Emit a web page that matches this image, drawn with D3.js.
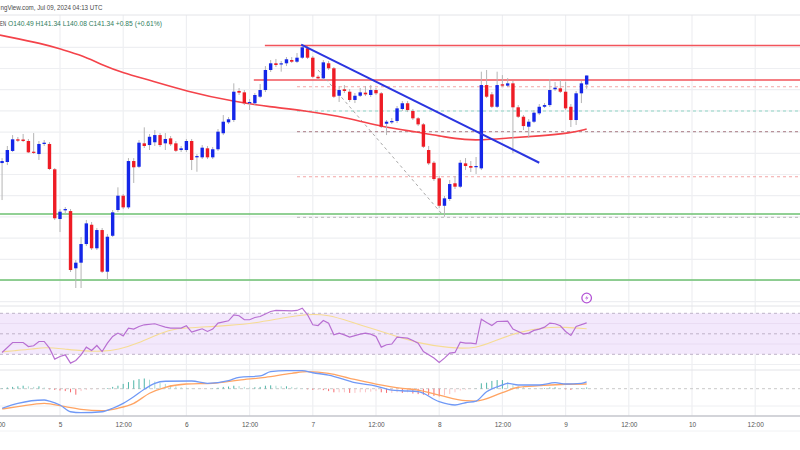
<!DOCTYPE html>
<html>
<head>
<meta charset="utf-8">
<script src="https://cdn.jsdelivr.net/npm/d3@7"></script>
<style>
	body { margin: 0; background: #fff; }
	svg { display: block; font-family: "Liberation Sans", Arial, sans-serif; }
</style>
</head>
<body>
<div id="chart"></div>
<script>
// hourly candles, first one is Jul 04 13:00 UTC (hour -11 from Jul 05 00:00)
var startHour = -11;

var opens = [133.08,133.18,134.22,135.32,135.30,135.16,134.15,133.93,134.88,134.88,132.49,
	127.80,128.62,128.55,123.15,123.68,125.44,127.26,125.04,126.76,122.83,126.22,128.65,130.00,128.90,133.27,132.73,134.94,134.78,135.04,135.72,134.94,135.41,134.94,134.31,
	134.31,135.16,133.62,133.62,134.47,133.62,134.38,135.89,136.92,137.14,139.88,139.75,138.74,138.72,139.34,139.97,141.86,142.49,142.40,142.49,142.80,142.64,143.02,143.91,
	143.02,141.22,141.07,142.49,142.02,139.43,140.04,139.81,139.03,139.43,139.72,139.50,139.97,139.66,136.79,136.92,137.05,138.18,138.72,137.99,137.30,136.73,134.31,133.11,
	131.64,129.05,129.69,131.17,130.85,133.05,132.80,132.70,132.58,140.44,139.56,138.39,140.51,140.38,140.60,138.34,137.45,136.51,136.98,137.77,138.39,138.55,140.04,140.13,
	139.81,138.39,137.14,139.66,140.49];
var highs = [133.55,134.69,135.72,135.54,135.82,135.35,135.91,135.16,135.25,135.06,132.61,
	128.74,128.93,128.74,123.93,126.10,127.71,127.52,126.95,126.95,126.39,128.65,130.79,130.16,133.55,133.55,135.25,136.45,135.82,136.20,135.91,135.91,135.63,135.16,134.69,
	135.35,135.35,133.93,134.78,134.69,134.59,136.29,137.61,137.42,140.60,140.16,139.97,139.12,139.69,140.54,142.23,142.80,142.90,142.71,143.08,143.08,143.46,144.26,144.12,
	143.18,141.38,142.80,142.71,142.14,140.35,140.44,140.06,139.69,140.16,140.35,140.44,140.16,139.78,137.14,137.33,138.46,138.93,138.93,138.18,137.42,136.86,134.69,133.27,
	131.86,129.97,131.48,131.86,133.37,133.55,133.27,133.65,141.70,141.86,139.78,141.70,141.38,141.10,140.82,138.55,137.61,137.23,138.08,138.65,138.74,141.01,140.72,140.91,
	140.75,138.65,139.88,140.82,141.34];
var lows = [129.59,132.89,134.12,135.06,135.06,134.03,133.93,133.37,134.69,132.42,127.71,
	126.57,128.27,122.80,121.29,121.29,125.25,124.88,124.88,122.71,122.05,126.10,128.46,128.74,128.74,131.20,132.61,134.50,134.31,134.69,134.59,134.31,134.69,134.12,134.12,
	134.12,132.42,132.26,133.46,133.46,133.46,134.22,135.72,136.76,136.95,139.50,138.55,138.08,138.55,139.22,139.78,141.67,142.14,141.70,142.23,142.52,142.52,142.90,142.90,
	141.10,140.91,140.91,141.86,139.22,138.84,139.69,138.84,138.74,139.31,139.40,139.31,139.50,136.39,135.72,136.76,136.86,137.99,137.89,137.14,136.57,134.50,132.89,131.39,
	128.84,128.02,129.50,130.63,130.72,132.42,132.23,132.05,132.42,139.22,138.27,138.27,140.25,140.25,134.00,137.33,136.20,135.44,136.86,137.61,138.27,138.37,139.88,139.69,
	138.08,136.48,136.67,138.74,140.08];
var closes = [133.27,134.31,135.32,135.19,135.16,134.09,134.06,134.88,135.00,132.52,127.87,
	128.49,128.74,122.99,123.68,125.44,127.39,125.04,126.76,122.83,126.13,128.43,130.00,128.90,133.27,132.68,135.00,134.69,135.56,135.72,134.78,135.35,134.85,134.24,134.47,
	135.16,133.37,133.74,134.53,133.62,134.38,136.04,136.98,137.21,139.81,139.72,138.72,138.84,139.50,139.97,141.86,142.49,142.33,142.49,142.87,142.64,143.02,144.00,143.02,
	141.22,141.07,142.58,142.02,139.34,139.97,139.88,139.03,139.43,139.75,139.56,139.97,139.66,136.51,136.98,137.05,138.24,138.72,138.08,137.30,136.73,134.62,133.05,131.57,
	129.05,129.75,131.10,130.85,133.11,132.80,132.64,132.80,140.44,139.34,138.39,140.44,140.38,140.60,138.34,137.45,136.57,136.98,137.83,138.39,138.55,139.97,140.19,139.81,
	138.24,137.14,139.66,140.60,141.34];

// moving average on price pane: [hour, price]
var maPoints = [[-11.4,145.15],[-3,144.31],[0,143.84],[4.4,143.2],[7.6,142.42],[12,141.58],[17,140.9],[24,139.85],[33,138.87],[40,138.37],
	[46,138.05],[55,137.33],[61,136.5],[68,136.0],[73,135.54],[77,135.27],[80,135.25],[85,135.44],[91,135.63],[97,135.91],[100,136.29]];

// drawings
var resistanceLevels = [{price: 144.17, from: 38.9}, {price: 140.91, from: 36.8}];
var fibLevels = [140.28, 137.99, 136.04, 131.79, 127.96];
var fibFrom = 45;
var supportLevels = [128.27, 122.05];
var trendLine = [[45.8, 144.26], [91.0, 133.11]];
var swingLine = [[49.0, 141.86], [72.7, 128.17]];

// RSI and its moving average: [hour, value]
var rsiPoints = [[-11,31.8],[-9,41.5],[-7,41.5],[-6,37.6],[-5,38.3],[-4,42.5],[-3,42.5],[-2,36.0],[-1,25.3],[0,27.9],[1,29.5],[2,21.4],[3,24.0],[4,29.5],
	[5,37.0],[6,33.7],[7,38.6],[8,32.7],[9,40.9],[10,47.4],[11,50.7],[12,48.0],[13,55.5],[14,54.6],[15,57.1],[16,58.8],[18,59.8],[19,58.1],[20,56.5],[21,55.5],
	[23,55.5],[24,57.8],[25,51.6],[26,53.3],[27,54.9],[28,52.3],[29,54.6],[30,60.4],[32,62.7],[33,68.5],[34,67.6],[35,63.7],[36,63.7],[37,65.9],[38,66.9],
	[40,71.8],[41,72.8],[44,72.4],[45,72.8],[46,75.0],[47,68.5],[48,58.8],[49,58.1],[50,63.0],[51,60.4],[52,49.0],[53,50.7],[54,49.0],[55,46.8],[57,49.7],
	[58,50.7],[59,49.7],[60,47.4],[61,37.0],[62,39.3],[63,40.0],[64,46.8],[66,45.8],[67,43.5],[68,40.9],[69,32.7],[70,29.5],[71,26.3],[72,22.0],[73,26.3],
	[74,31.2],[75,31.8],[76,41.9],[77,40.9],[78,40.9],[79,40.2],[80,64.3],[81,61.1],[82,58.1],[83,62.0],[85,62.4],[86,54.6],[87,52.3],[88,49.7],[89,50.7],
	[90,53.3],[91,54.6],[92,56.5],[93,60.4],[94,59.8],[95,57.8],[96,52.3],[97,48.4],[98,57.1],[100,60.7]];
var rsiMaPoints = [[-11,32.5],[-9,33.4],[-5,35.1],[-3,37.0],[1,35.1],[4,33.4],[8,32.7],[11,34.4],[15,40.9],[19,50.7],[22,55.5],[27,56.5],[32,58.1],
	[37,60.4],[42,65.3],[47,69.5],[51,68.5],[55,62.0],[60,53.9],[64,47.4],[68,40.9],[74,36.0],[79,35.4],[83,44.1],[87,51.6],[92,56.5],[96,56.5],[100,54.9]];

// MACD, signal: [hour, value]; histogram: one value per candle
var macdPoints = [[-11,-1.63],[-8,-1.22],[-3,-0.94],[-2,-1.03],[0,-1.36],[2,-1.92],[4,-2.0],[8,-1.92],[10,-1.63],[12,-1.22],[14,-0.67],[16,-0.05],
	[18,0.45],[20,0.62],[25,0.64],[28,0.45],[32,0.67],[34,0.95],[38,1.06],[40,1.42],[43,1.5],[46,1.5],[48,1.33],[51,1.14],[56,0.5],[60,0.22],[63,-0.11],
	[65,-0.17],[68,-0.25],[72,-1.08],[75,-1.36],[77,-1.17],[79,-1.03],[81,-0.25],[84,0.31],[85,0.45],[87,0.31],[91,0.31],[94,0.5],[96,0.39],[99,0.45],[100,0.56]];
var signalPoints = [[-11,-1.69],[-8,-1.5],[-3,-1.22],[1,-1.5],[4,-1.72],[8,-1.83],[11,-1.63],[14,-1.22],[17,-0.38],[20,0.12],[24,0.39],[29,0.45],
	[34,0.72],[39,0.95],[44,1.28],[47,1.42],[51,1.28],[55,0.87],[60,0.39],[65,0.03],[68,-0.11],[72,-0.53],[77,-1.0],[79,-1.03],[84,-0.33],[87,0.12],
	[91,0.25],[96,0.37],[100,0.39]];
var histValues = [0.05,0.1,0.15,0.2,0.25,0.2,0.15,0.2,0.1,-0.05,-0.1,
	-0.15,-0.2,-0.3,-0.5,-0.2,-0.1,-0.05,-0.05,-0.02,0.05,0.15,0.25,0.4,0.55,0.7,0.8,0.85,0.75,0.6,0.5,0.4,0.3,0.2,0.12,
	0.08,0.03,0.0,-0.02,0.0,0.03,0.08,0.15,0.18,0.25,0.22,0.15,0.1,0.12,0.15,0.25,0.28,0.25,0.2,0.2,0.15,0.1,0.05,-0.05,
	-0.1,-0.1,-0.12,-0.2,-0.3,-0.3,-0.3,-0.35,-0.35,-0.3,-0.3,-0.25,-0.2,-0.3,-0.35,-0.35,-0.3,-0.35,-0.3,-0.4,-0.45,-0.5,-0.55,-0.6,
	-0.65,-0.55,-0.45,-0.3,-0.15,-0.08,-0.02,0.02,0.45,0.5,0.65,0.72,0.72,0.55,0.3,0.2,0.12,0.05,0.02,0.02,0.05,0.1,0.12,0.05,
	-0.05,-0.1,0.02,0.05,0.1];

var priceGrid = [120,122,124,126,128,130,132,134,136,138,140,142,144];

var width = 800, height = 450;
var mainTop = 15, mainBottom = 304, rsiTop = 306, rsiBottom = 368, macdTop = 370, macdBottom = 416;

function hourDate(h) { return new Date(Date.UTC(2024, 6, 5, 0) + h * 3600000); }

var x = d3.scaleUtc()
	.domain([hourDate(0), hourDate(120)])
	.range([60, 692]);
var y = d3.scaleLinear().domain([120, 144]).range([301.7, 47.3]);
var yRsi = d3.scaleLinear().domain([30, 70]).range([354.3, 313.3]);
var yMacd = d3.scaleLinear().domain([0, 1]).range([388.7, 376.7]);

var svg = d3.select("#chart").append("svg")
	.attr("width", width)
	.attr("height", height);

var defs = svg.append("defs");
function clip(id, y0, y1) {
	defs.append("clipPath").attr("id", id)
		.append("rect").attr("x", 0).attr("y", y0).attr("width", width).attr("height", y1 - y0);
	return "url(#" + id + ")";
}

// vertical grid + time axis
var ticks = d3.utcHour.every(12).range(hourDate(-12), hourDate(133));
svg.append("g").selectAll("line").data(ticks).join("line")
	.attr("x1", function(d) { return x(d); })
	.attr("x2", function(d) { return x(d); })
	.attr("y1", mainTop).attr("y2", macdBottom)
	.attr("stroke", "#eeeff2").attr("stroke-width", 1.2);

// horizontal grid, main pane
svg.append("g").selectAll("line").data(priceGrid).join("line")
	.attr("x1", 0).attr("x2", width)
	.attr("y1", function(d) { return y(d); })
	.attr("y2", function(d) { return y(d); })
	.attr("stroke", "#eeeff2").attr("stroke-width", 1.2);

// pane borders
[mainTop, rsiTop, macdTop].forEach(function(v) {
	svg.append("line").attr("x1", 0).attr("x2", width).attr("y1", v).attr("y2", v)
		.attr("stroke", "#e3e4e8");
});
svg.append("line").attr("x1", 0).attr("x2", width).attr("y1", 364.5).attr("y2", 364.5).attr("stroke", "#eeeff2");
svg.append("line").attr("x1", 0).attr("x2", width).attr("y1", macdBottom).attr("y2", macdBottom)
	.attr("stroke", "#c4c6cc").attr("stroke-width", 1.5);
svg.append("line").attr("x1", 0).attr("x2", width).attr("y1", 431).attr("y2", 431)
	.attr("stroke", "#f1f2f4");

var xAxis = d3.axisBottom(x)
	.tickValues(ticks)
	.tickSize(0)
	.tickFormat(function(d) { return d.getUTCHours() === 0 ? d3.utcFormat("%-d")(d) : "12:00"; });
var axisG = svg.append("g").attr("transform", "translate(0," + (macdBottom + 3) + ")").call(xAxis);
axisG.select(".domain").remove();
axisG.selectAll("text").attr("fill", "#555").style("font-size", "6.5px")
	.style("font-family", "'Liberation Sans', Arial, sans-serif");

// ---- main pane ----
var main = svg.append("g").attr("clip-path", clip("clipMain", mainTop, mainBottom));

// support (green)
main.selectAll("line.support").data(supportLevels).join("line")
	.attr("class", "support")
	.attr("x1", 0).attr("x2", width)
	.attr("y1", function(d) { return y(d); }).attr("y2", function(d) { return y(d); })
	.attr("stroke", "#6cc070").attr("stroke-width", 1.5);

// fib style dashed levels
var fibColors = ["#f4a7a7", "#8fd6c6", "#b8939b", "#f4a7a7", "#c4c4c4"];
main.selectAll("line.fib").data(fibLevels).join("line")
	.attr("class", "fib")
	.attr("x1", x(hourDate(fibFrom))).attr("x2", width)
	.attr("y1", function(d) { return y(d); }).attr("y2", function(d) { return y(d); })
	.attr("stroke", function(d, i) { return fibColors[i]; })
	.attr("stroke-width", 1.2)
	.attr("stroke-dasharray", "3,3");

// resistance (red)
main.selectAll("line.res").data(resistanceLevels).join("line")
	.attr("class", "res")
	.attr("x1", function(d) { return x(hourDate(d.from)); }).attr("x2", width)
	.attr("y1", function(d) { return y(d.price); }).attr("y2", function(d) { return y(d.price); })
	.attr("stroke", "#f2545b").attr("stroke-width", 1.6);

// swing dashed diagonal
main.append("line")
	.attr("x1", x(hourDate(swingLine[0][0]))).attr("y1", y(swingLine[0][1]))
	.attr("x2", x(hourDate(swingLine[1][0]))).attr("y2", y(swingLine[1][1]))
	.attr("stroke", "#a9a9a9").attr("stroke-width", 1).attr("stroke-dasharray", "3,3");

// moving average
var maLine = d3.line()
	.x(function(d) { return x(hourDate(d[0])); })
	.y(function(d) { return y(d[1]); })
	.curve(d3.curveBasis);
main.append("path").datum(maPoints)
	.attr("d", maLine)
	.attr("fill", "none").attr("stroke", "#f4434a").attr("stroke-width", 1.6);

// candles
var candles = closes.map(function(c, i) {
	return {t: hourDate(startHour + i), o: opens[i], h: highs[i], l: lows[i], c: c};
});
var bodyW = 3.4;
var cg = main.append("g");
cg.selectAll("line").data(candles).join("line")
	.attr("x1", function(d) { return x(d.t); }).attr("x2", function(d) { return x(d.t); })
	.attr("y1", function(d) { return y(d.h); }).attr("y2", function(d) { return y(d.l); })
	.attr("stroke", "#b5b5b5").attr("stroke-width", 1);
cg.selectAll("rect").data(candles).join("rect")
	.attr("x", function(d) { return x(d.t) - bodyW / 2; })
	.attr("width", bodyW)
	.attr("y", function(d) { return y(Math.max(d.o, d.c)); })
	.attr("height", function(d) { return Math.max(1.2, Math.abs(y(d.o) - y(d.c))); })
	.attr("fill", function(d) { return d.c >= d.o ? "#1426e8" : "#ee1c25"; });

// trend line
main.append("line")
	.attr("x1", x(hourDate(trendLine[0][0]))).attr("y1", y(trendLine[0][1]))
	.attr("x2", x(hourDate(trendLine[1][0]))).attr("y2", y(trendLine[1][1]))
	.attr("stroke", "#2b35e0").attr("stroke-width", 2);

// event marker
var ev = svg.append("g").attr("transform", "translate(" + x(hourDate(100)) + ",298)");
ev.append("circle").attr("r", 4.8).attr("fill", "#fff").attr("stroke", "#b455d6").attr("stroke-width", 1.3);
ev.append("path").attr("d", "M1,-3 L-1.6,0.4 L0.4,0.4 L-1,3 L1.8,-0.6 L-0.2,-0.6 Z").attr("fill", "#b455d6");

// ---- RSI pane ----
var rsi = svg.append("g").attr("clip-path", clip("clipRsi", rsiTop, rsiBottom));
rsi.append("rect")
	.attr("x", 0).attr("width", width)
	.attr("y", yRsi(70)).attr("height", yRsi(30) - yRsi(70))
	.attr("fill", "#f3e8fc");
[60, 40].forEach(function(v) {
	rsi.append("line").attr("x1", 0).attr("x2", width).attr("y1", yRsi(v)).attr("y2", yRsi(v))
		.attr("stroke", "#e9dcf3");
});
[70, 50, 30].forEach(function(v) {
	rsi.append("line").attr("x1", 0).attr("x2", width).attr("y1", yRsi(v)).attr("y2", yRsi(v))
		.attr("stroke", "#bfb3c9").attr("stroke-dasharray", "3,3");
});
var rsiLine = d3.line()
	.x(function(d) { return x(hourDate(d[0])); })
	.y(function(d) { return yRsi(d[1]); });
rsi.append("path").datum(rsiMaPoints)
	.attr("d", rsiLine.curve(d3.curveBasis))
	.attr("fill", "none").attr("stroke", "#f6dc94").attr("stroke-width", 1.1);
rsi.append("path").datum(rsiPoints)
	.attr("d", rsiLine.curve(d3.curveLinear))
	.attr("fill", "none").attr("stroke", "#b86fd2").attr("stroke-width", 1.2);

// ---- MACD pane ----
var macd = svg.append("g").attr("clip-path", clip("clipMacd", macdTop, macdBottom));
macd.append("line").attr("x1", 0).attr("x2", width).attr("y1", 406).attr("y2", 406).attr("stroke", "#eeeff2");
macd.append("line").attr("x1", 0).attr("x2", width).attr("y1", yMacd(0)).attr("y2", yMacd(0))
	.attr("stroke", "#c9c9c9").attr("stroke-dasharray", "3,3");
var hist = histValues.map(function(v, i) {
	var prev = i > 0 ? histValues[i - 1] : v;
	return {t: hourDate(startHour + i), v: v, up: v >= prev};
});
macd.selectAll("rect.hist").data(hist).join("rect")
	.attr("class", "hist")
	.attr("x", function(d) { return x(d.t) - 0.5; })
	.attr("width", 1)
	.attr("y", function(d) { return Math.min(yMacd(d.v), yMacd(0)); })
	.attr("height", function(d) { return Math.abs(yMacd(d.v) - yMacd(0)); })
	.attr("fill", function(d) {
		if (d.v >= 0) return d.up ? "#4fb5a8" : "#a9dcd4";
		return d.up ? "#fbc3c6" : "#f66a6f";
	});
var macdLine = d3.line()
	.x(function(d) { return x(hourDate(d[0])); })
	.y(function(d) { return yMacd(d[1]); })
	.curve(d3.curveMonotoneX);
macd.append("path").datum(signalPoints)
	.attr("d", macdLine)
	.attr("fill", "none").attr("stroke", "#ffa463").attr("stroke-width", 1.3);
macd.append("path").datum(macdPoints)
	.attr("d", macdLine)
	.attr("fill", "none").attr("stroke", "#7099f6").attr("stroke-width", 1.3);

// ---- header (left part is cut off in the snapshot) ----
svg.append("text")
	.attr("x", 0.5).attr("y", 9.5)
	.attr("fill", "#4a4a4a")
	.style("font-size", "6.6px")
	.attr("textLength", 102)
	.attr("lengthAdjust", "spacingAndGlyphs")
	.text("ngView.com, Jul 09, 2024 04:13 UTC");

svg.append("text")
	.attr("x", 0).attr("y", 25.5)
	.attr("fill", "#333")
	.style("font-size", "6.6px")
	.attr("textLength", 6)
	.attr("lengthAdjust", "spacingAndGlyphs")
	.text("EN");
svg.append("text")
	.attr("x", 8).attr("y", 25.5)
	.attr("fill", "#2f7d5c")
	.style("font-size", "6.6px")
	.attr("textLength", 154)
	.attr("lengthAdjust", "spacingAndGlyphs")
	.text("O140.49  H141.34  L140.08  C141.34  +0.85 (+0.61%)");
</script>
</body>
</html>
